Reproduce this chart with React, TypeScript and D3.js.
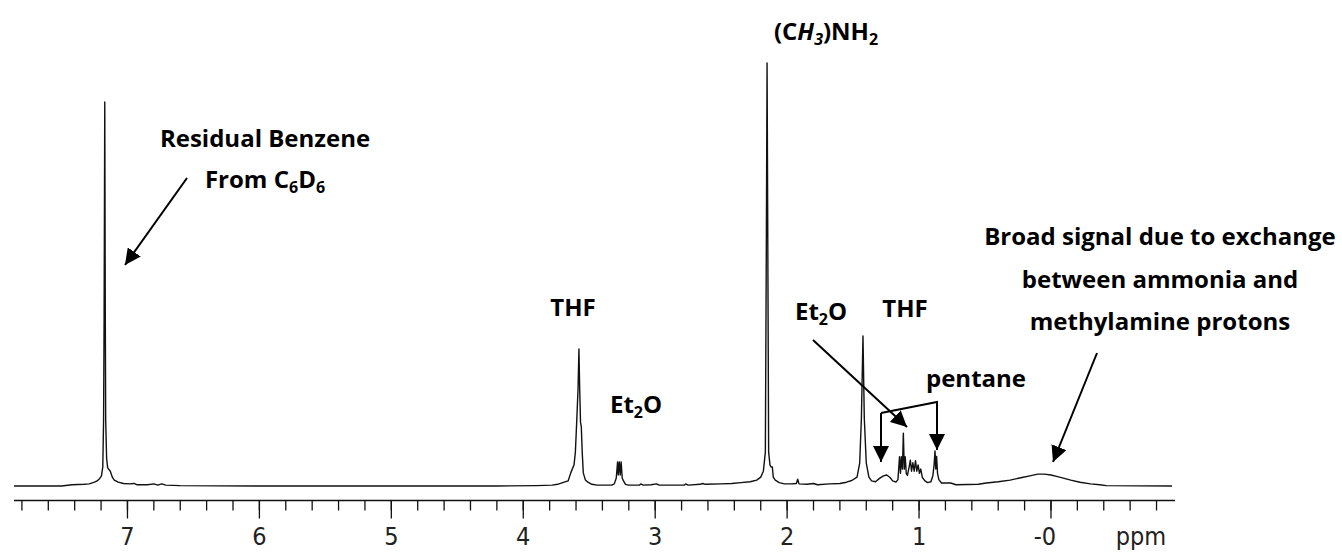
import * as d3 from "d3";

// ppm / relative intensity (tallest line = 100)
const spectrum: [number, number][] = [
  [7.86, 0], [7.5, 0], [7.42, 0.3], [7.33, 0.4], [7.29, 0.5], [7.25, 0.9],
  [7.23, 1.2], [7.21, 1.8], [7.197, 2.4], [7.187, 4.5], [7.181, 15.6],
  [7.177, 39.7], [7.172, 90.8], [7.168, 39.7], [7.165, 15.6], [7.158, 6.5],
  [7.15, 4.3], [7.13, 3.5], [7.115, 2.1], [7.1, 1.4], [7.07, 0.9], [7.03, 0.6],
  [6.98, 0.5], [6.95, 0.6], [6.93, 0.3], [6.85, 0.3], [6.8, 0.5], [6.77, 0.2],
  [6.74, 0.5], [6.71, 0.2], [6.6, 0.1], [6.0, 0], [5.0, 0], [4.2, 0],
  [3.9, 0.1], [3.78, 0.2], [3.74, 0.4], [3.69, 0.9], [3.66, 1.2], [3.64, 3.1],
  [3.615, 5.0], [3.605, 8.0], [3.595, 15.1], [3.585, 22.7], [3.578, 32.4],
  [3.572, 22.7], [3.566, 15.1], [3.56, 14], [3.553, 8], [3.545, 3.1],
  [3.53, 1.5], [3.51, 0.9], [3.48, 0.4], [3.44, 0.2], [3.33, 0.2], [3.31, 0.5],
  [3.295, 1.9], [3.285, 5.7], [3.28, 2.6], [3.272, 5.7], [3.265, 2.6],
  [3.258, 5.7], [3.25, 1.9], [3.24, 1.2], [3.225, 0.4], [3.2, 0.2], [3.12, 0.2],
  [3.11, 0.5], [3.09, 0.2], [3.03, 0.3], [2.99, 0.5], [2.97, 0.2], [2.78, 0.2],
  [2.77, 0.5], [2.75, 0.2], [2.66, 0.4], [2.64, 0.6], [2.62, 0.4], [2.5, 0.5],
  [2.42, 0.6], [2.35, 0.8], [2.28, 1.0], [2.23, 1.4], [2.2, 2.1], [2.18, 3.5],
  [2.165, 8.0], [2.158, 53.9], [2.152, 100], [2.146, 53.9], [2.14, 8.0],
  [2.13, 5.0], [2.122, 4.5], [2.112, 4.5], [2.105, 2.1], [2.09, 1.4],
  [2.06, 0.8], [2.02, 0.5], [1.97, 0.5], [1.93, 0.6], [1.92, 1.6], [1.91, 0.5],
  [1.85, 0.4], [1.8, 0.6], [1.77, 0.3], [1.68, 0.5], [1.6, 0.6], [1.55, 0.9],
  [1.51, 1.3], [1.47, 2.1], [1.45, 5.4], [1.437, 16], [1.425, 35.5],
  [1.415, 16], [1.4, 5.4], [1.38, 2.1], [1.36, 1.2], [1.33, 1.0], [1.3, 1.8],
  [1.27, 2.4], [1.245, 2.6], [1.22, 2.0], [1.2, 1.2], [1.175, 0.9], [1.16, 1.5],
  [1.148, 6.9], [1.141, 3.0], [1.134, 6.9], [1.126, 4.0], [1.119, 12.5],
  [1.112, 4.0], [1.105, 6.9], [1.097, 3.0], [1.088, 2.5], [1.075, 4.5],
  [1.066, 6.1], [1.057, 3.5], [1.047, 5.5], [1.037, 3.5], [1.027, 6.0],
  [1.017, 3.5], [1.007, 5.0], [0.997, 3.0], [0.987, 4.0], [0.975, 2.0],
  [0.955, 1.2], [0.935, 0.8], [0.91, 1.0], [0.895, 2.5], [0.886, 5.0],
  [0.879, 8.3], [0.873, 4.0], [0.867, 7.0], [0.86, 3.0], [0.85, 1.5],
  [0.83, 0.7], [0.76, 0.7], [0.72, 0.3], [0.55, 0.4], [0.49, 0.7], [0.4, 1.0],
  [0.31, 1.4], [0.22, 2.0], [0.16, 2.4], [0.1, 2.8], [0.05, 2.8], [0.0, 2.6],
  [-0.05, 2.2], [-0.1, 1.8], [-0.15, 1.4], [-0.22, 0.9], [-0.3, 0.5],
  [-0.37, 0.3], [-0.42, 0.1], [-0.917, 0],
];

const majorTicks = [7, 6, 5, 4, 3, 2, 1, 0];
const tickLabels = ["7", "6", "5", "4", "3", "2", "1", "-0"];
const minorTicks = d3.range(-4, 40).map((i) => i / 5);

const W = 1342;
const H = 552;
const axisY = 500.5;
const boldFont = "'Open Sans', 'Noto Sans', sans-serif";
const tickFont = "'Liberation Sans Narrow', 'DejaVu Sans Condensed', 'DejaVu Sans', sans-serif";

export default function App() {
  const x = d3.scaleLinear().domain([7.86, -0.94]).range([14, 1175]);
  const y = d3.scaleLinear().domain([0, 100]).range([486, 63]);

  const line = d3
    .line<[number, number]>()
    .x((d) => x(d[0]))
    .y((d) => y(d[1]));

  const sub = { fontSize: 16 };

  return (
    <div style={{ position: "absolute", left: 0, top: 0 }}>
      <svg width={W} height={H} style={{ display: "block", background: "#fff" }}>
        <defs>
          <marker
            id="head"
            markerUnits="userSpaceOnUse"
            markerWidth={17}
            markerHeight={16}
            refX={16}
            refY={8}
            orient="auto"
          >
            <path d="M0,0 L16,8 L0,16 Z" fill="#000" />
          </marker>
        </defs>

        {/* spectrum */}
        <path d={line(spectrum) ?? ""} fill="none" stroke="#111" strokeWidth={1.4} strokeLinejoin="round" />

        {/* ppm axis */}
        <line x1={14} x2={1175} y1={axisY} y2={axisY} stroke="#111" strokeWidth={1.6} />
        {minorTicks.map((t) => (
          <line key={t} x1={x(t)} x2={x(t)} y1={axisY} y2={axisY + 10} stroke="#111" strokeWidth={1.3} />
        ))}
        {majorTicks.map((t, i) => (
          <g key={t}>
            <line x1={x(t)} x2={x(t)} y1={axisY} y2={axisY + 18} stroke="#111" strokeWidth={1.3} />
            <text
              x={x(t) + (i === 7 ? -6 : 0)}
              y={545}
              textAnchor="middle"
              fontFamily={tickFont}
              fontSize={25}
              fill="#222"
            >
              {tickLabels[i]}
            </text>
          </g>
        ))}
        <text x={1141} y={545} textAnchor="middle" fontFamily={tickFont} fontSize={25} fill="#222">
          ppm
        </text>

        {/* annotations */}
        <g fontFamily={boldFont} fontWeight={700} fontSize={24} fill="#000">
          <text x={265} y={147} textAnchor="middle">Residual Benzene</text>
          <text x={265} y={188} textAnchor="middle">
            From C<tspan dy={5} {...sub}>6</tspan>
            <tspan dy={-5}>D</tspan>
            <tspan dy={5} {...sub}>6</tspan>
          </text>

          <text x={826} y={40} textAnchor="middle">
            (C<tspan fontStyle="italic">H</tspan>
            <tspan dy={5} fontStyle="italic" {...sub}>3</tspan>
            <tspan dy={-5}>)NH</tspan>
            <tspan dy={5} {...sub}>2</tspan>
          </text>

          <text x={573} y={316} textAnchor="middle">THF</text>
          <text x={636} y={413} textAnchor="middle">
            Et<tspan dy={5} {...sub}>2</tspan>
            <tspan dy={-5}>O</tspan>
          </text>

          <text x={821} y={320} textAnchor="middle">
            Et<tspan dy={5} {...sub}>2</tspan>
            <tspan dy={-5}>O</tspan>
          </text>
          <text x={905} y={317} textAnchor="middle">THF</text>
          <text x={976} y={387} textAnchor="middle">pentane</text>

          <text x={1160} y={245} textAnchor="middle">Broad signal due to exchange</text>
          <text x={1160} y={288} textAnchor="middle">between ammonia and</text>
          <text x={1160} y={330} textAnchor="middle">methylamine protons</text>
        </g>

        <g stroke="#000" strokeWidth={2} fill="none">
          <line x1={187} y1={178} x2={125} y2={265} markerEnd="url(#head)" />
          <line x1={813} y1={340} x2={907} y2={427} markerEnd="url(#head)" />
          <path d="M881,413 L937,402 L937,450" markerEnd="url(#head)" />
          <line x1={881} y1={413} x2={881} y2={462} markerEnd="url(#head)" />
          <line x1={1097} y1={353} x2={1053} y2={462} markerEnd="url(#head)" />
        </g>
      </svg>
    </div>
  );
}
